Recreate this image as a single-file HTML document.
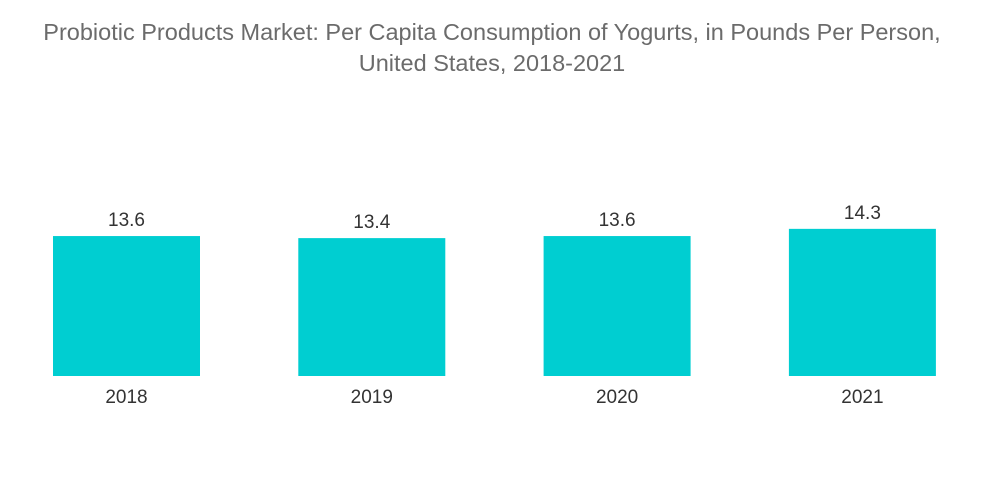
<!DOCTYPE html>
<html><head><meta charset="utf-8"><style>
body{margin:0;background:#fff;}
svg{display:block;}
</style></head><body>
<svg width="1000" height="504" id="c" font-family="Liberation Sans, sans-serif">
<text x="492" y="40" text-anchor="middle" font-size="23.5" fill="#6b6b6b">Probiotic Products Market: Per Capita Consumption of Yogurts, in Pounds Per Person,</text>
<text x="492" y="71" text-anchor="middle" font-size="23.5" fill="#6b6b6b">United States, 2018-2021</text>
<g id="bars"></g>
</svg>
<script>
const categories = ["2018","2019","2020","2021"];
const values = [13.6,13.4,13.6,14.3];
const labels = ["13.6","13.4","13.6","14.3"];
const baseY = 376, pxPerUnit = 10.29, x0 = 53, step = 245.3, barW = 147;
function xScale(i){return x0 + i*step;}
function yScale(v){return baseY - v*pxPerUnit;}
const g = document.getElementById('bars');
const NS = 'http://www.w3.org/2000/svg';
categories.forEach((c,i)=>{
  const r = document.createElementNS(NS,'rect');
  r.setAttribute('x', xScale(i));
  r.setAttribute('y', yScale(values[i]));
  r.setAttribute('width', barW);
  r.setAttribute('height', baseY - yScale(values[i]));
  r.setAttribute('fill', '#00ced1');
  
  
  g.appendChild(r);
  const t = document.createElementNS(NS,'text');
  t.setAttribute('x', xScale(i) + barW/2);
  t.setAttribute('y', yScale(values[i]) - 10);
  t.setAttribute('text-anchor', 'middle');
  t.setAttribute('font-size', '19');
  t.setAttribute('fill', '#333');
  t.textContent = labels[i];
  
  
  g.appendChild(t);
  const a = document.createElementNS(NS,'text');
  a.setAttribute('x', xScale(i) + barW/2);
  a.setAttribute('y', 403);
  a.setAttribute('text-anchor', 'middle');
  a.setAttribute('font-size', '19');
  a.setAttribute('fill', '#333');
  a.textContent = c;
  
  
  g.appendChild(a);
});
</script>
</body></html>
